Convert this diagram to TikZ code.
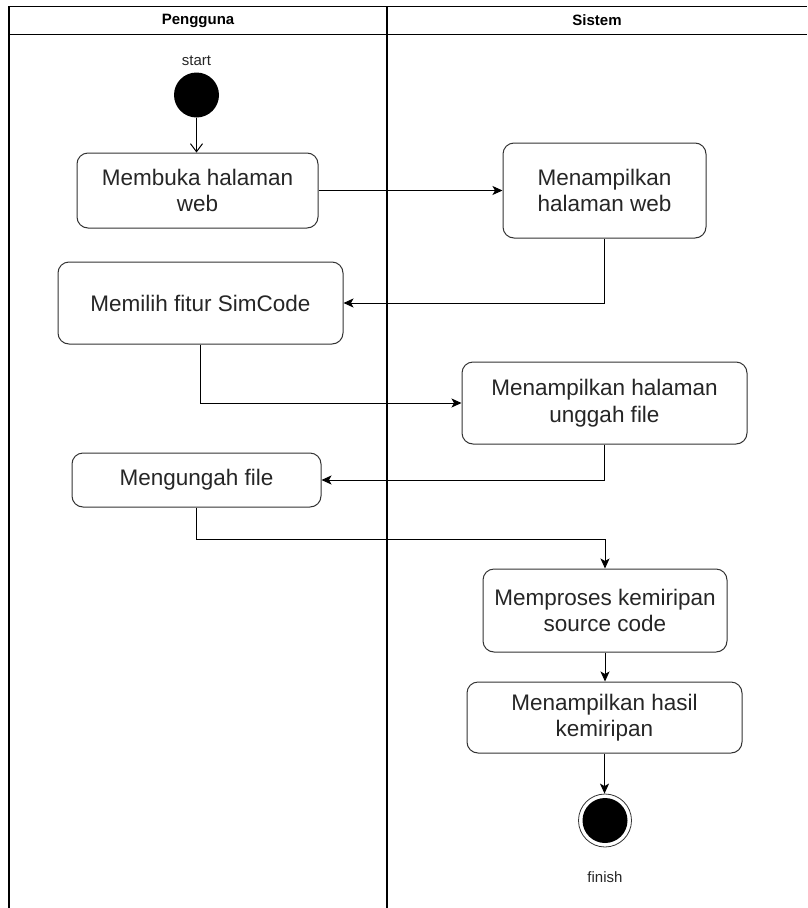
\documentclass[tikz,border=0pt]{standalone}
\usepackage{fontspec}
\setmainfont{Liberation Sans}
\usepackage{tikz}
\usetikzlibrary{arrows.meta, positioning}

\begin{document}
\begin{tikzpicture}[
    x=1pt, y=-1pt,
    lane/.style={draw=black, line width=1.2pt},
    act/.style={rectangle, rounded corners=11pt, draw=black!80, line width=1pt, fill=white, text=black!85, align=center, inner sep=0pt, font=\fontsize{22.5}{26.5}\selectfont},
    lanetitle/.style={font=\bfseries\fontsize{15}{18}\selectfont},
    tag/.style={text=black!85, font=\fontsize{15}{18}\selectfont},
    flow/.style={-{Stealth[length=10pt, width=9pt, inset=2.5pt]}, line width=1pt}
]
\useasboundingbox (0,0) rectangle (807,908);

% swimlanes
\draw[lane] (9,908) -- (9,6.5) -- (807,6.5);
\draw[lane] (9,34.5) -- (807,34.5);
\draw[lane] (387,6.5) -- (387,908);
\node[lanetitle] (laneUser) at (198,20.5) {Pengguna};
\node[lanetitle] (laneSys) at (597,20.5) {Sistem};

% start / finish
\node[circle, fill=black, minimum size=45pt, inner sep=0pt] (start) at (196.5,95) {};
\node[tag, above=3pt of start] (startLbl) {start};
\node[circle, draw=black!80, line width=0.8pt, fill=white, minimum size=53pt, inner sep=0pt] (finish) at (605,820.5) {};
\fill[black] (finish.center) circle (22.5pt);
\node[tag] (finishLbl) at (605,877) {finish};

% activities
\node[act, minimum width=241pt, minimum height=75pt] (buka) at (197.5,190.5) {Membuka halaman\\web};
\node[act, minimum width=203pt, minimum height=95pt] (tampil) at (604.5,190.5) {Menampilkan\\halaman web};
\node[act, minimum width=285pt, minimum height=82pt] (pilih) at (200.5,303) {Memilih fitur SimCode};
\node[act, minimum width=285pt, minimum height=82pt] (unggahPage) at (604.5,403) {Menampilkan halaman\\unggah file};
\node[act, minimum width=249pt, minimum height=54pt] (unggah) at (196.5,480) {Mengungah file};
\node[act, minimum width=244pt, minimum height=83pt] (proses) at (605,610.5) {Memproses kemiripan\\source code};
\node[act, minimum width=275pt, minimum height=71pt] (hasil) at (604.5,717.5) {Menampilkan hasil\\kemiripan};

% flow
\draw[-{Straight Barb[length=8pt, width=12pt]}, line width=1pt] (start.south) -- (start.south |- buka.north);
\draw[flow] (buka.east) -- (buka.east -| tampil.west);
\draw[flow] (tampil.south) |- (pilih.east);
\draw[flow] (pilih.south) |- (unggahPage.west);
\draw[flow] (unggahPage.south) |- (unggah.east);
\draw[flow] (unggah.south) -- ++(0,32) -| (proses.north);
\draw[flow] (proses.south) -- (proses.south |- hasil.north);
\draw[flow] (hasil.south) -- (hasil.south |- finish.north);
\end{tikzpicture}
\end{document}
